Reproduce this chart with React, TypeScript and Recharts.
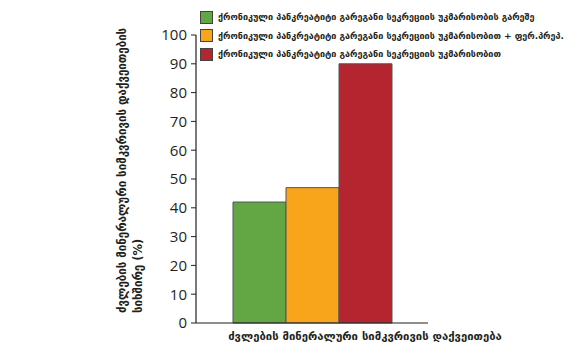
import React from "react";
import { BarChart, Bar, XAxis, YAxis } from "recharts";

const categories = ["ძვლების მინერალური სიმკვრივის დაქვეითება"];
const seriesNames = [
  "ქრონიკული პანკრეატიტი გარეგანი სეკრეციის უკმარისობის გარეშე",
  "ქრონიკული პანკრეატიტი გარეგანი სეკრეციის უკმარისობით + ფერ.პრეპ.",
  "ქრონიკული პანკრეატიტი გარეგანი სეკრეციის უკმარისობით",
];
const seriesValues = [42, 47, 90];
const seriesColors = ["#62a744", "#f8a51c", "#b5252f"];
const yTicks = [0, 10, 20, 30, 40, 50, 60, 70, 80, 90, 100];
const yLabelLines = ["ძვლების მინერალური სიმკვრივის დაქვეითების", "სიხშირე (%)"];

const data = categories.map((c) => {
  const row: Record<string, string | number> = { category: c };
  seriesValues.forEach((v, i) => {
    row[`s${i}`] = v;
  });
  return row;
});

const GEO_FONT = "'DejaVu Sans', sans-serif";

// Legend sits over the top-right of the chart without taking space from the plot
function LegendBox() {
  return (
    <div
      style={{
        position: "absolute",
        top: 8,
        left: 200,
        fontFamily: GEO_FONT,
        whiteSpace: "nowrap",
      }}
    >
      {seriesNames.map((name, i) => (
        <div
          key={name}
          style={{ display: "flex", alignItems: "center", height: 18.5 }}
        >
          <span
            style={{
              display: "inline-block",
              width: 11,
              height: 11,
              background: seriesColors[i],
              border: "1px solid #444",
              marginRight: 5,
            }}
          />
          <span style={{ fontSize: 9, fontWeight: 700, color: "#231f20" }}>
            {name}
          </span>
        </div>
      ))}
    </div>
  );
}

function YLabel(props: any) {
  const vb = props.viewBox || {};
  const bottom = vb.y + vb.height - 10;
  return (
    <g>
      {yLabelLines.map((line, i) => (
        <text
          key={i}
          x={122 + i * 16}
          y={bottom}
          transform={`rotate(-90, ${122 + i * 16}, ${bottom})`}
          textAnchor="start"
          dominantBaseline="central"
          fontFamily={GEO_FONT}
          fontWeight={700}
          fontSize={11.5}
          fill="#231f20"
        >
          {line}
        </text>
      ))}
    </g>
  );
}

function XLabel(props: any) {
  const vb = props.viewBox || {};
  return (
    <text
      x={365}
      y={vb.y + 13}
      textAnchor="middle"
      dominantBaseline="central"
      fontFamily={GEO_FONT}
      fontWeight={700}
      fontSize={11.3}
      fill="#231f20"
    >
      {categories[0]}
    </text>
  );
}

export default function App() {
  return (
    <div
      style={{
        position: "fixed",
        left: 0,
        top: 0,
        width: 564,
        height: 343,
        background: "#fff",
      }}
    >
      <BarChart
        width={564}
        height={343}
        data={data}
        margin={{ top: 35, right: 136, bottom: 0, left: 136 }}
        barGap={0}
        barCategoryGap={37}
      >
        <XAxis
          dataKey="category"
          tick={false}
          tickLine={false}
          axisLine={{ stroke: "#231f20", strokeWidth: 1.2 }}
          height={20}
          label={<XLabel />}
        />
        <YAxis
          width={60}
          domain={[0, 100]}
          ticks={yTicks}
          interval={0}
          tickSize={5}
          tickMargin={4}
          axisLine={{ stroke: "#231f20", strokeWidth: 1.2 }}
          tickLine={{ stroke: "#231f20" }}
          tick={{
            fontFamily: "'Open Sans', sans-serif",
            fontSize: 15,
            fill: "#231f20",
          }}
          label={<YLabel />}
        />
        {seriesValues.map((_, i) => (
          <Bar
            key={i}
            dataKey={`s${i}`}
            name={seriesNames[i]}
            fill={seriesColors[i]}
            stroke="#555"
            strokeWidth={1}
            isAnimationActive={false}
          />
        ))}
      </BarChart>
      <LegendBox />
    </div>
  );
}
